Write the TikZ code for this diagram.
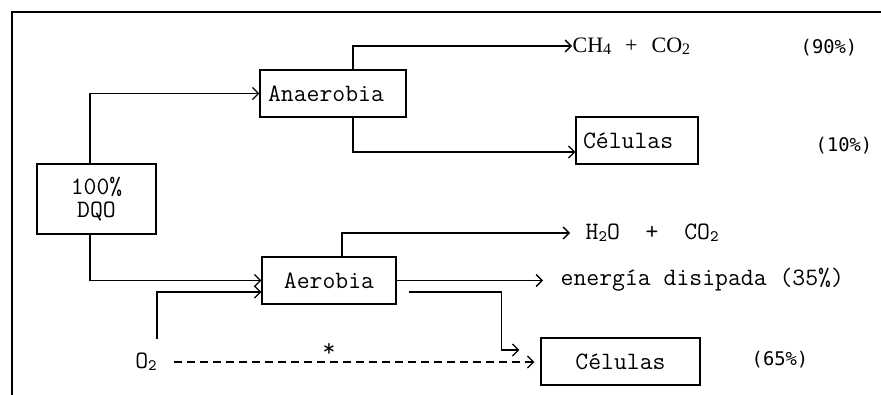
\documentclass[tikz,border=0pt]{standalone}
\usepackage{fontspec}
\newfontfamily\pctfont{DejaVu Sans Mono}
\newfontfamily\serfont{Liberation Serif}
\usetikzlibrary{arrows.meta}
\newcommand\subd[1]{\raisebox{-0.2ex}{\fontsize{8}{8}\selectfont #1}}
\begin{document}
\begin{tikzpicture}[x=0.5pt,y=-0.5pt, line width=0.65pt,
  box/.style={draw, inner sep=0pt, minimum height=23.5pt, font=\ttfamily\fontsize{12.5}{13}\selectfont},
  lbl/.style={inner sep=0pt, font=\ttfamily\fontsize{12.5}{13}\selectfont},
  pct/.style={inner sep=0pt, font=\pctfont\fontsize{9.4}{10}\selectfont},
  arr/.style={-{Straight Barb[length=3pt,width=6pt]}}]
\useasboundingbox (0,0) rectangle (881,395);
\draw (12,395) -- (12,12) -- (881,12);

\node[box, align=left, inner xsep=4pt, text width=65pt] (ana) at (333,93.5) {Anaerobia};
\node[box, align=left, inner xsep=3.5pt, text width=54pt] (cel1) at (637,140.5) {Células};
\node[box, align=center, minimum width=59.5pt, minimum height=35pt, font=\ttfamily\fontsize{12.5}{11.5}\selectfont] (dqo) at (96.5,199) {100\%\\DQO};
\node[box, minimum width=67pt] (aer) at (329,280.5) {Aerobia};
\node[box, minimum width=79.5pt] (cel2) at (620.5,361.5) {Células};

\node[lbl, anchor=west, font=\serfont\fontsize{11}{12}\selectfont] (ch4) at (572,46) {CH\subd{4}\hspace{7pt}+\hspace{7pt}CO\subd{2}};
\node[lbl, anchor=west] (h2o) at (585,233) {H\subd{2}O~~+~~CO\subd{2}};
\node[lbl, anchor=west] (ener) at (560,280) {energía disipada (35\%)};
\node[pct] (p90) at (829,48) {(90\%)};
\node[pct] (p10) at (844,146) {(10\%)};
\node[pct] (p65) at (780,360) {(65\%)};
\node[lbl] (o2) at (146,362) {O\subd{2}};
\node[lbl] (star) at (329,350) {*};
\coordinate (o2s) at (157,339);

\draw[arr] ([xshift=-3.25pt]dqo.north) |- (ana.west);
\draw[arr] ([xshift=-3.25pt]dqo.south) |- (aer.west);
\draw[arr] (o2s) |- ([yshift=-5.75pt]aer.west);
\draw[arr] ([xshift=10pt]ana.north) |- (ch4.west);
\draw[arr] ([xshift=10pt]ana.south) |- ([yshift=-5.75pt]cel1.west);
\draw[arr, shorten >=7.5pt] ([xshift=6.5pt]aer.north) |- (h2o.west);
\draw[arr, shorten >=8.5pt] (aer.east) -- (aer.east -| ener.west);
\draw[arr] ([xshift=6pt,yshift=-5.75pt]aer.east) -- ++(93,0) |- ([xshift=-10.5pt,yshift=5.75pt]cel2.west);
\draw[arr, dashed, dash pattern=on 4pt off 2.5pt, shorten <=8.5pt, shorten >=3pt] (o2) -- (o2 -| cel2.west);
\end{tikzpicture}
\end{document}
